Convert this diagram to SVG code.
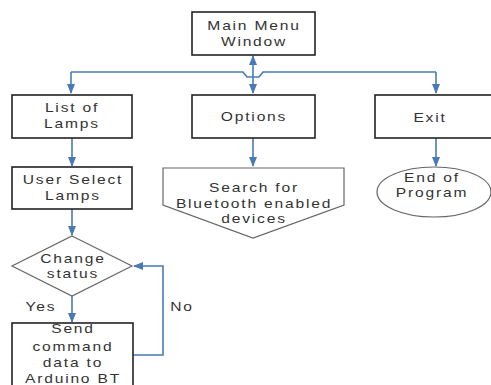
<svg xmlns="http://www.w3.org/2000/svg" width="491" height="385" viewBox="0 0 491 385">
<defs>
<marker id="ah" markerWidth="10" markerHeight="10" refX="9" refY="5" orient="auto" markerUnits="userSpaceOnUse">
<path d="M0,1 L10,5 L0,9 Z" fill="#4a7ab5"/>
</marker>
<style>
.box{fill:#fff;stroke:#222;stroke-width:1.6}
.soft{fill:#fff;stroke:#666;stroke-width:1.2}
.c{fill:none;stroke:#4a7ab5;stroke-width:1.6}
text{font-family:"Liberation Sans",Arial,sans-serif;font-size:13px;fill:#333;text-anchor:middle;letter-spacing:1.5px}
</style>
</defs>
<rect width="491" height="385" fill="#fff"/>
<g id="connectors">
<path class="c" d="M71,72 L243,72 L247,77 L259,77 L263,72 L436,72"/>
<path class="c" d="M71,72 L71,93" marker-end="url(#ah)"/>
<path class="c" d="M436,72 L436,93" marker-end="url(#ah)"/>
<path class="c" d="M253,67 L253,56" marker-end="url(#ah)"/>
<path class="c" d="M253,67 L253,93" marker-end="url(#ah)"/>
<path class="c" d="M72,138 L72,166" marker-end="url(#ah)"/>
<path class="c" d="M253,138 L253,166" marker-end="url(#ah)"/>
<path class="c" d="M436,138 L436,166" marker-end="url(#ah)"/>
<path class="c" d="M72,209 L72,235" marker-end="url(#ah)"/>
<path class="c" d="M72,296 L72,322" marker-end="url(#ah)"/>
<path class="c" d="M133,355 L163,355 L163,266 L134,266" marker-end="url(#ah)"/>
</g>
<g id="main-menu">
<rect class="box" x="192" y="12" width="123" height="43"/>
<text transform="translate(254,30) scale(1.2,1)">Main Menu</text>
<text transform="translate(254,46) scale(1.2,1)">Window</text>
</g>
<g id="list-of-lamps">
<rect class="box" x="12" y="95" width="120" height="43"/>
<text transform="translate(72,112) scale(1.2,1)">List of</text>
<text transform="translate(72,128) scale(1.2,1)">Lamps</text>
</g>
<g id="options">
<rect class="box" x="192" y="95" width="123" height="43"/>
<text transform="translate(254,121) scale(1.2,1)">Options</text>
</g>
<g id="exit">
<rect class="box" x="375" y="95" width="125" height="43"/>
<text transform="translate(430,122) scale(1.2,1)">Exit</text>
</g>
<g id="user-select">
<rect class="box" x="12" y="167" width="120" height="42"/>
<text transform="translate(73,184) scale(1.2,1)">User Select</text>
<text transform="translate(73,200) scale(1.2,1)">Lamps</text>
</g>
<g id="search">
<path class="soft" d="M163,168 L344,168 L344,205 L253,238 L163,205 Z"/>
<text transform="translate(254,192) scale(1.2,1)">Search for</text>
<text transform="translate(254,208) scale(1.2,1)">Bluetooth enabled</text>
<text transform="translate(254,223) scale(1.2,1)">devices</text>
</g>
<g id="end-of-program">
<ellipse class="soft" cx="434" cy="192" rx="57" ry="25"/>
<text transform="translate(432,182) scale(1.2,1)">End of</text>
<text transform="translate(432,197) scale(1.2,1)">Program</text>
</g>
<g id="change-status">
<path class="soft" d="M72,236 L132,266 L72,296 L12,266 Z"/>
<text transform="translate(73,263) scale(1.2,1)">Change</text>
<text transform="translate(73,278) scale(1.2,1)">status</text>
</g>
<g id="labels">
<text transform="translate(41,311) scale(1.2,1)">Yes</text>
<text transform="translate(182,311) scale(1.2,1)">No</text>
</g>
<g id="send-command">
<rect class="box" x="12" y="323" width="121" height="75"/>
<text transform="translate(73,333) scale(1.2,1)">Send</text>
<text transform="translate(73,351) scale(1.2,1)">command</text>
<text transform="translate(73,367) scale(1.2,1)">data to</text>
<text transform="translate(73,383) scale(1.2,1)">Arduino BT</text>
</g>
</svg>
